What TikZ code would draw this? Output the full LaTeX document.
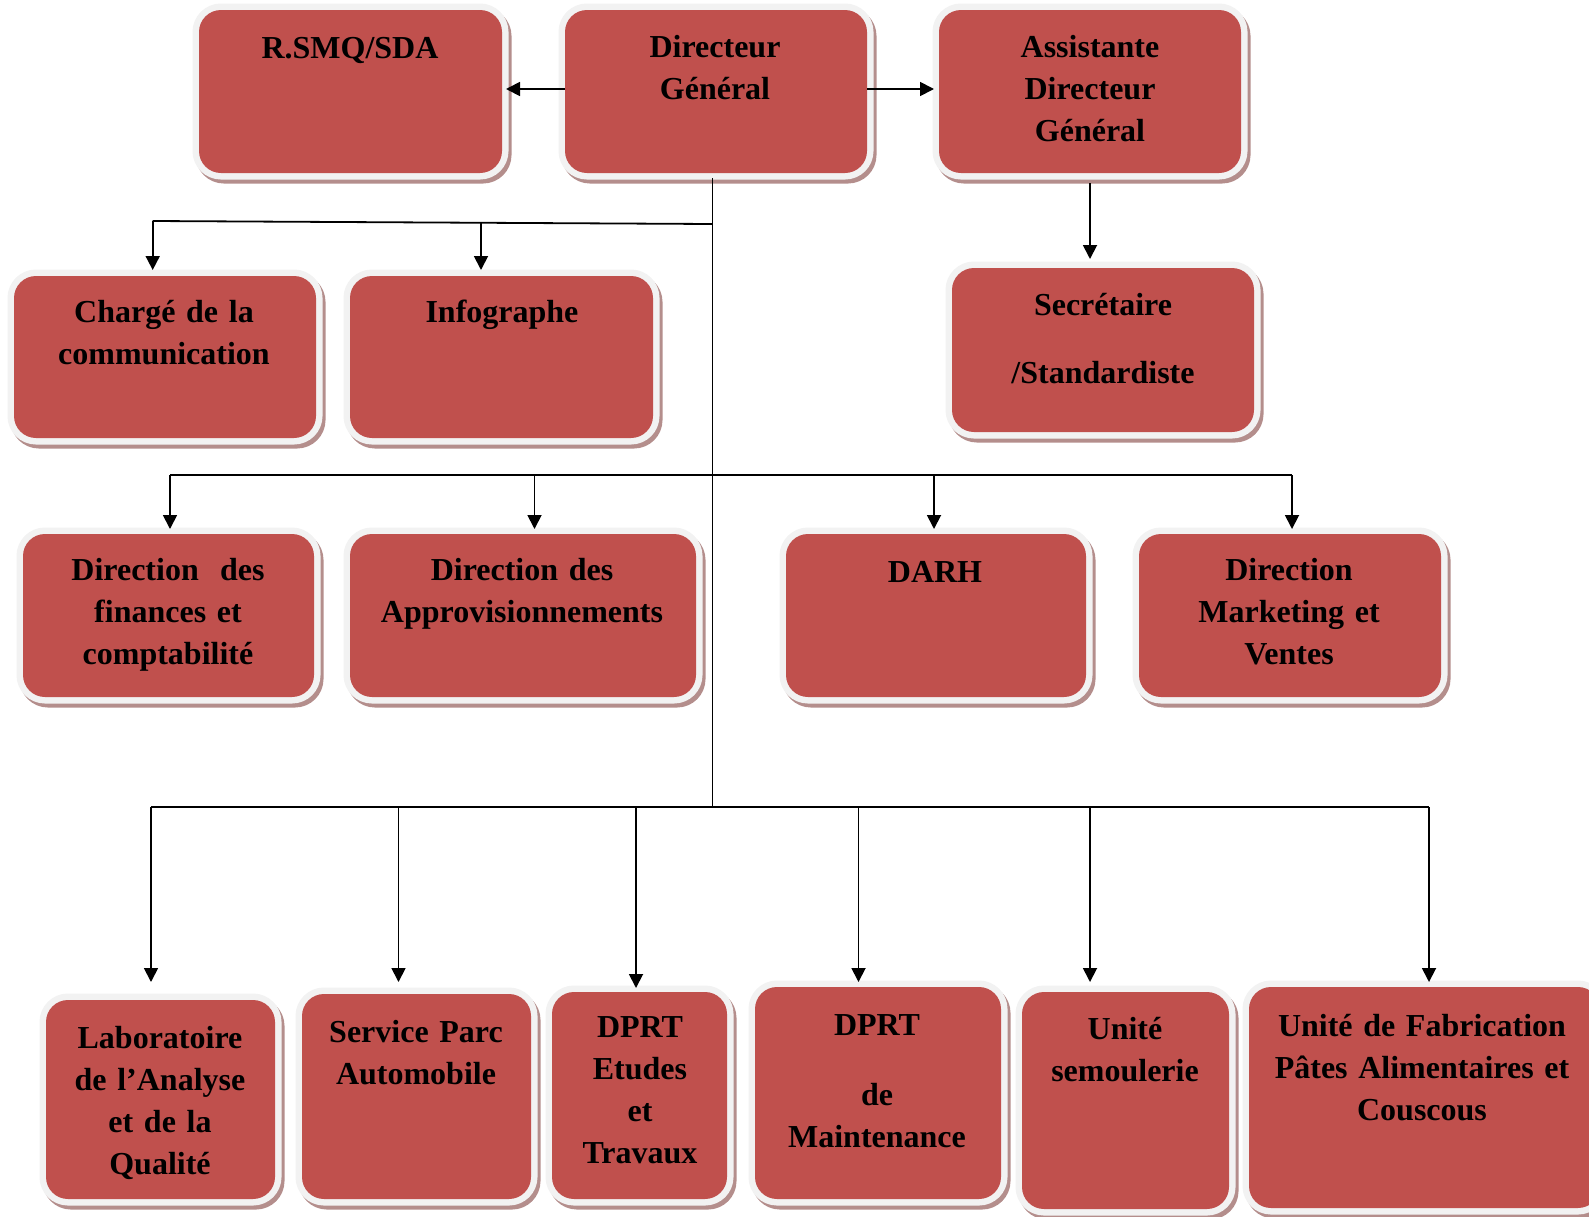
\documentclass[tikz,border=0pt]{standalone}
\usepackage{fontspec}
\setmainfont{Liberation Serif}
\usetikzlibrary{arrows.meta,fit}
\definecolor{boxred}{HTML}{C0504D}
\definecolor{boxrim}{HTML}{F2F2F2}
\definecolor{boxshade}{HTML}{B48E8C}

\begin{document}
\begin{tikzpicture}[x=0.5pt,y=-0.5pt,
  orgbox/.style={rectangle, rounded corners=11pt, inner sep=0pt, outer sep=0pt, fill=boxred,
    preaction={fill=boxshade, draw=boxshade, line width=6.5pt,
      transform canvas={shift={(1.5pt,-2pt)}}},
    preaction={draw=boxrim, line width=6.5pt}},
  label/.style={text width=220pt, align=center, inner sep=0pt, anchor=base,
    font=\bfseries\fontsize{16}{21}\selectfont},
  conn/.style={draw=black, line width=0.9pt},
  arr/.style={conn, -{Triangle[length=7pt,width=7pt]}}]

\useasboundingbox (0,0) rectangle (1589,1216);
\clip (0,0) rectangle (1589,1216);

% ---- boxes (red areas) ----
\node[orgbox, fit={(199,10) (502,173)}]    (rsmq)   {};
\node[orgbox, fit={(565,10) (867,173)}]    (dg)     {};
\node[orgbox, fit={(939,10) (1241,173)}]   (asst)   {};
\node[orgbox, fit={(14,276) (316,438)}]    (charge) {};
\node[orgbox, fit={(350,276) (653,438)}]   (info)   {};
\node[orgbox, fit={(952,268) (1254,432)}]  (secr)   {};
\node[orgbox, fit={(23,534) (314,697)}]    (fin)    {};
\node[orgbox, fit={(350,534) (696,697)}]   (appro)  {};
\node[orgbox, fit={(786,534) (1086,697)}]  (darh)   {};
\node[orgbox, fit={(1139,534) (1441,697)}] (mkt)    {};
\node[orgbox, fit={(46,1000) (275,1199)}]  (lab)    {};
\node[orgbox, fit={(302,994) (531,1199)}]  (parc)   {};
\node[orgbox, fit={(552,992) (727,1199)}]  (etudes) {};
\node[orgbox, fit={(755,987) (1001,1199)}] (maint)  {};
\node[orgbox, fit={(1022,992) (1229,1209)}](semoul) {};
\node[orgbox, fit={(1249,987) (1600,1208)}](fab)    {};

% ---- texts ----
\node[label] (rsmq-t)   at (350,58)    {R.SMQ/SDA};
\node[label] (dg-t)     at (715,57)    {Directeur\\Général};
\node[label] (asst-t)   at (1090,57)   {Assistante\\Directeur\\Général};
\node[label] (charge-t) at (164,322)   {Chargé de la\\communication};
\node[label] (info-t)   at (502,322)   {Infographe};
\node[label] (secr-t)   at (1103,315)  {Secrétaire\\[13pt]/Standardiste};
\node[label] (fin-t)    at (168,580)   {Direction\ \ des\\finances et\\comptabilité};
\node[label] (appro-t)  at (522,580)   {Direction des\\Approvisionnements};
\node[label] (darh-t)   at (935,582)   {DARH};
\node[label] (mkt-t)    at (1289,580)  {Direction\\Marketing et\\Ventes};
\node[label] (lab-t)    at (160,1048)  {Laboratoire\\de l’Analyse\\et de la\\Qualité};
\node[label] (parc-t)   at (416,1042)  {Service Parc\\Automobile};
\node[label] (etudes-t) at (640,1037)  {DPRT\\Etudes\\et\\Travaux};
\node[label] (maint-t)  at (877,1035)  {DPRT\\[14pt]de\\Maintenance};
\node[label] (semoul-t) at (1125,1039) {Unité\\semoulerie};
\node[label] (fab-t)    at (1422,1036) {Unité de Fabrication\\Pâtes Alimentaires et\\Couscous};

% ---- junction points ----
\coordinate (hubA)  at (712.5,224);
\coordinate (hubAL) at (152.7,221);
\coordinate (brI)   at (481,222.8);
\coordinate (hubB)  at (712.5,475);
\coordinate (hubBL) at (170,475);
\coordinate (hubBR) at (1292,475);
\coordinate (brAp)  at (534.5,475);
\coordinate (brDa)  at (934,475);
\coordinate (hubC)  at (712.5,807);
\coordinate (hubCL) at (151,807);
\coordinate (hubCR) at (1429,807);
\coordinate (brPa)  at (398.5,807);
\coordinate (brEt)  at (636,807);
\coordinate (brMa)  at (858.5,807);
\coordinate (brSe)  at (1090,807);

% ---- connectors ----
\draw[arr, shorten >=2pt] ([yshift=1.25pt]dg.west) -- ([yshift=1.25pt]rsmq.east);
\draw[arr, shorten >=2.5pt] ([yshift=1.25pt]dg.east) -- ([yshift=1.25pt]asst.west);
\draw[arr, shorten <=5pt, shorten >=4.5pt] (asst.south) -- (asst.south |- secr.north);

\draw[conn, shorten <=2.5pt] (dg.south -| hubA) -- (hubC);
\draw[conn] (hubAL) -- (hubA);
\draw[arr, shorten >=3pt] (hubAL) -- (hubAL |- charge.north);
\draw[arr, shorten >=3pt] (brI) -- (brI |- info.north);

\draw[conn] (hubBL) -- (hubBR);
\draw[arr, shorten >=2.5pt] (hubBL) -- (hubBL |- fin.north);
\draw[arr, shorten >=2.5pt] (brAp) -- (brAp |- appro.north);
\draw[arr, shorten >=2.5pt] (brDa) -- (brDa |- darh.north);
\draw[arr, shorten >=2.5pt] (hubBR) -- (hubBR |- mkt.north);

\draw[conn] (hubCL) -- (hubCR);
\draw[arr, shorten >=9pt]   (hubCL) -- (hubCL |- lab.north);
\draw[arr, shorten >=6pt]   (brPa) -- (brPa |- parc.north);
\draw[arr, shorten >=2pt]   (brEt) -- (brEt |- etudes.north);
\draw[arr, shorten >=2.5pt] (brMa) -- (brMa |- maint.north);
\draw[arr, shorten >=5pt]   (brSe) -- (brSe |- semoul.north);
\draw[arr, shorten >=2.5pt] (hubCR) -- (hubCR |- fab.north);

\end{tikzpicture}
\end{document}
